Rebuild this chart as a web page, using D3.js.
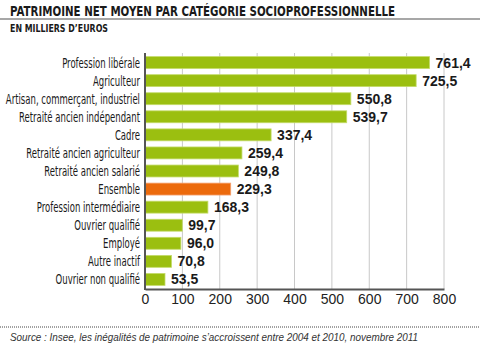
<!DOCTYPE html>
<html lang="fr">
<head>
  <meta charset="UTF-8">
  <title>Patrimoine net moyen</title>
  <script src="https://d3js.org/d3.v7.min.js"></script>
  <style>
    body { margin: 0; background: #fff; }
    .cond { font-family: "DejaVu Sans", sans-serif; font-stretch: condensed; }
    .grid line { stroke: #c8c8c8; stroke-width: 1; }
    .xaxis text { font-family: "Liberation Sans", sans-serif; font-size: 14px; fill: #222; }
  </style>
</head>
<body>
  <svg id="svg" width="480" height="354"></svg>
  <script>
    // données (milliers d'euros)
    var categories = ['Profession libérale', 'Agriculteur', 'Artisan, commerçant, industriel',
      'Retraité ancien indépendant', 'Cadre', 'Retraité ancien agriculteur', 'Retraité ancien salarié',
      'Ensemble', 'Profession intermédiaire', 'Ouvrier qualifié', 'Employé', 'Autre inactif',
      'Ouvrier non qualifié']
    var values = [761.4, 725.5, 550.8, 539.7, 337.4, 259.4, 249.8, 229.3, 168.3, 99.7, 96.0, 70.8, 53.5]
    var xTicks = [0, 100, 200, 300, 400, 500, 600, 700, 800]
    var highlight = 'Ensemble'

    var svg = d3.select('#svg')
    var plot = { top: 53, bottom: 289, left: 145, right: 444 }

    var x = d3.scaleLinear().domain([0, 800]).range([plot.left, plot.right])
    var y = d3.scaleBand().domain(categories).range([plot.top, plot.bottom])
      .paddingInner(0.34).paddingOuter(0.2)

    var fmt = function (v) { return d3.format('.1f')(v).replace('.', ',') }

    // resserre un texte à une largeur donnée (police condensée absente)
    function fit(sel, w) {
      sel.attr('textLength', w).attr('lengthAdjust', 'spacingAndGlyphs')
    }
    function squeeze(sel, k) {
      sel.each(function () {
        var n = this.getComputedTextLength()
        d3.select(this).attr('textLength', n * k).attr('lengthAdjust', 'spacingAndGlyphs')
      })
    }

    // titre
    svg.append('text')
      .attr('class', 'cond')
      .attr('x', 10).attr('y', 16)
      .attr('font-size', 14).attr('font-weight', 'bold').attr('fill', '#1a1a1a')
      .text('PATRIMOINE NET MOYEN PAR CATÉGORIE SOCIOPROFESSIONNELLE')
      .call(fit, 385)
    svg.append('line')
      .attr('x1', 0).attr('x2', 480).attr('y1', 19).attr('y2', 19)
      .attr('stroke', '#8a8a8a').attr('stroke-width', 1.5)
    svg.append('text')
      .attr('class', 'cond')
      .attr('x', 10).attr('y', 32)
      .attr('font-size', 10).attr('font-weight', 'bold').attr('fill', '#1a1a1a')
      .text('EN MILLIERS D\u2019EUROS')
      .call(fit, 98)

    // grille
    svg.append('g').attr('class', 'grid')
      .selectAll('line')
      .data(xTicks.slice(1))
      .enter().append('line')
      .attr('x1', d => x(d)).attr('x2', d => x(d))
      .attr('y1', plot.top).attr('y2', plot.bottom)

    // barres
    svg.append('g')
      .selectAll('rect')
      .data(values)
      .enter().append('rect')
      .attr('x', x(0))
      .attr('y', (d, i) => y(categories[i]))
      .attr('width', d => x(d) - x(0))
      .attr('height', y.bandwidth())
      .attr('fill', (d, i) => categories[i] === highlight ? '#ec6a0c' : '#9bbf10')
      .attr('stroke', (d, i) => categories[i] === highlight ? '#f3a070' : '#c4db6a')
      .attr('stroke-width', 0.8)

    // valeurs
    svg.append('g')
      .selectAll('text')
      .data(values)
      .enter().append('text')
      .attr('x', d => x(d) + 6)
      .attr('y', (d, i) => y(categories[i]) + y.bandwidth() / 2 + 5)
      .attr('font-family', 'Liberation Sans, sans-serif')
      .attr('font-size', 14).attr('font-weight', 'bold').attr('fill', '#1a1a1a')
      .text(d => fmt(d))

    // libellés des catégories
    svg.append('g')
      .selectAll('text')
      .data(categories)
      .enter().append('text')
      .attr('class', 'cond')
      .attr('x', plot.left - 5)
      .attr('y', d => y(d) + y.bandwidth() / 2 + 5)
      .attr('text-anchor', 'end')
      .attr('font-size', 13.5).attr('fill', '#1a1a1a')
      .text(d => d)
      .call(squeeze, 0.7)

    // axes
    var xAxis = d3.axisBottom(x).tickValues(xTicks).tickSize(0).tickPadding(5)
    svg.append('g')
      .attr('class', 'xaxis')
      .attr('transform', 'translate(0,' + plot.bottom + ')')
      .call(xAxis)
      .call(g => g.select('.domain').attr('stroke', '#555').attr('stroke-width', 2))
    svg.append('line')
      .attr('x1', plot.left).attr('x2', plot.left)
      .attr('y1', plot.top).attr('y2', plot.bottom + 1)
      .attr('stroke', '#555').attr('stroke-width', 2)

    // source
    svg.append('line')
      .attr('x1', 0).attr('x2', 480).attr('y1', 327).attr('y2', 327)
      .attr('stroke', '#444').attr('stroke-width', 1).attr('stroke-dasharray', '1,1')
    svg.append('text')
      .attr('x', 10).attr('y', 341)
      .attr('font-family', 'Liberation Sans, sans-serif')
      .attr('font-size', 10.5).attr('font-style', 'italic').attr('fill', '#333')
      .text('Source : Insee, les inégalités de patrimoine s\u2019accroissent entre 2004 et 2010, novembre 2011')
      .call(fit, 408)
  </script>
</body>
</html>
